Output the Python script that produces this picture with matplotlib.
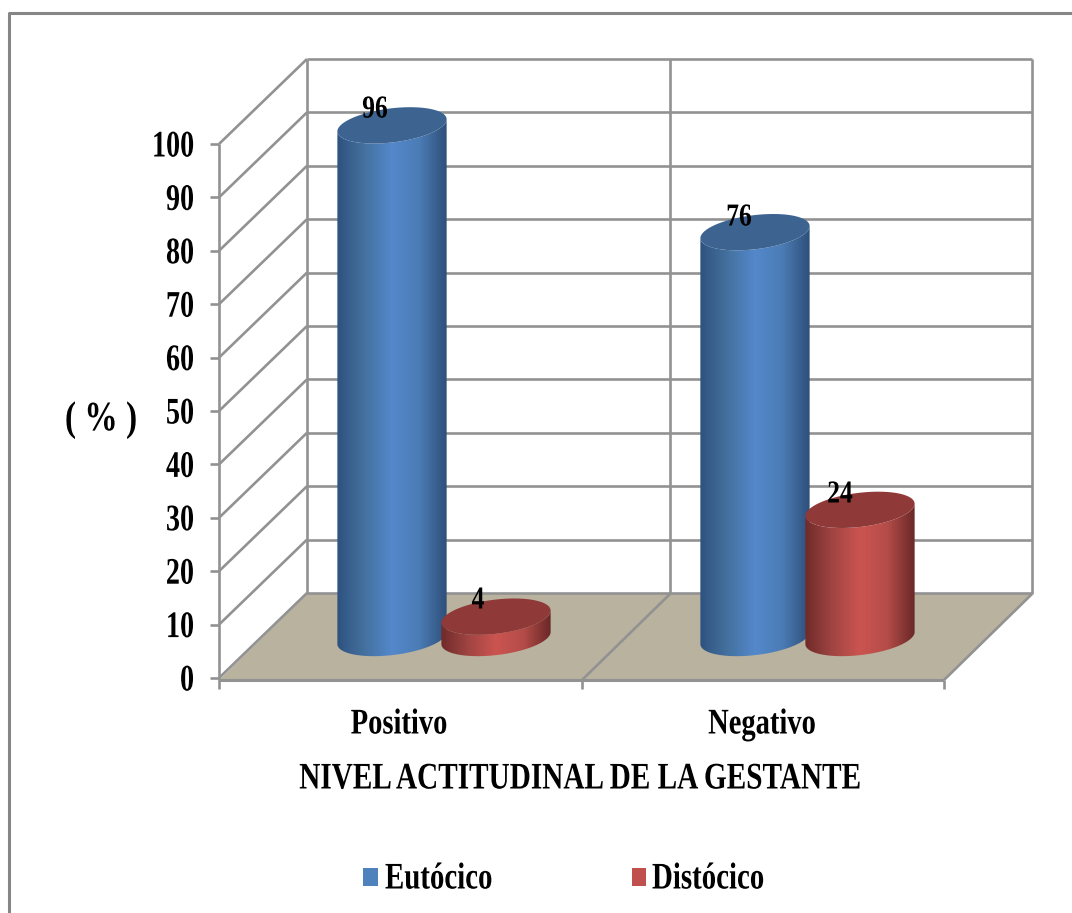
import numpy as np
import matplotlib
matplotlib.use('Agg')
import matplotlib.pyplot as plt
from matplotlib.colors import LinearSegmentedColormap
from matplotlib.patches import Polygon, Rectangle
from matplotlib.patheffects import AbstractPathEffect
from matplotlib.transforms import Affine2D

# Daten
categorias = ['Positivo', 'Negativo']
eutocico = [96, 76]
distocico = [4, 24]
ticks_y = [0, 10, 20, 30, 40, 50, 60, 70, 80, 90, 100]

GRIS = '#929292'
K = 5.34   # Pixel pro Prozentpunkt


class Squeeze(AbstractPathEffect):
    # schmale Schrift: Glyphen horizontal um x0 stauchen
    def __init__(self, x0, sx):
        super().__init__()
        self.x0 = x0
        self.sx = sx

    def draw_path(self, renderer, gc, tpath, affine, rgbFace=None):
        t = affine + Affine2D().translate(-self.x0, 0).scale(self.sx, 1).translate(self.x0, 0)
        renderer.draw_path(gc, tpath, t, rgbFace)


fig = plt.figure(figsize=(10.72, 9.13), dpi=100)
ax = fig.add_axes([0, 0, 1, 1])
ax.set_xlim(0, 1072)
ax.set_ylim(913, 0)
ax.axis('off')


def texto(x, y, s, size, sx=0.75, ha='center', color='black'):
    t = ax.text(x, y, s, fontsize=size, family='Liberation Serif', fontweight='bold',
                ha=ha, va='center', color=color, zorder=20)
    t.set_path_effects([Squeeze(x, sx)])
    return t


def linea(xs, ys, lw=1.9, z=2):
    ax.plot(xs, ys, color=GRIS, lw=lw, solid_capstyle='butt', zorder=z)


# Rahmen (nur links und oben)
ax.plot([9, 9, 1072], [913, 13, 13], color='#868686', lw=2.2, zorder=1)

# Boden
ax.add_patch(Polygon([(220, 679), (307, 594), (1032, 594), (944, 679)], closed=True,
                     facecolor='#b8b29e', edgecolor='none', zorder=1))

# Waende und Gitterlinien
for v in ticks_y:
    y_front = 678 - v * K
    y_back = 593 - v * K
    linea([307, 1032], [y_back, y_back])
    linea([219, 307], [y_front, y_back])
    linea([210, 219], [y_front, y_front])
    texto(194, y_front + 3, str(v), 27, ha='right')
linea([219, 219], [678 - 100 * K, 689])
linea([307, 307], [59, 594])
linea([670, 670], [59, 594])
linea([1032, 1032], [59, 594])
linea([219, 944], [680, 680], lw=2.2)
linea([582, 582], [680, 689])
linea([944, 944], [680, 689])
linea([582, 670], [680, 594])
linea([944, 1032], [680, 594])

# Zylinder
cm_azul = LinearSegmentedColormap.from_list('azul', ['#2f527f', '#44719f', '#5388cb', '#4b7cb5', '#2e4f7a'])
cm_rojo = LinearSegmentedColormap.from_list('rojo', ['#6f2a29', '#a04543', '#cc5450', '#b44c49', '#692827'])


def elipse(cx, cy, a=55.0, b=17.0, ang=7.0, t=None):
    th = np.radians(ang)
    if t is None:
        t = np.linspace(0, 2 * np.pi, 180)
    x = cx + a * np.cos(t) * np.cos(th) + b * np.sin(t) * np.sin(th)
    y = cy - a * np.cos(t) * np.sin(th) + b * np.sin(t) * np.cos(th)
    return np.column_stack([x, y])


def zylinder(cx, valor, cmap, color_top, base=638, z=5):
    y_top = base - valor * K
    # Tangentenpunkte der gekippten Ellipse als Grenzen des Mantels
    t0 = np.arctan(17.0 / 55.0 * np.tan(np.radians(7.0)))
    t = np.linspace(t0, np.pi + t0, 120)
    unten = elipse(cx, base, t=t)
    oben = elipse(cx, y_top, t=t)[::-1]
    cuerpo = Polygon(np.vstack([unten, oben]), closed=True, facecolor='none', edgecolor='none', zorder=z)
    ax.add_patch(cuerpo)
    grad = np.linspace(0, 1, 256).reshape(1, -1)
    im = ax.imshow(grad, cmap=cmap, extent=[cx - 55, cx + 55, 913, 0], aspect='auto', zorder=z)
    im.set_clip_path(cuerpo)
    ax.add_patch(Polygon(elipse(cx, y_top), closed=True, facecolor=color_top, edgecolor='none', zorder=z + 0.1))


zylinder(392, eutocico[0], cm_azul, '#3d6491', z=5)
zylinder(496, distocico[0], cm_rojo, '#8f3a39', z=6)
zylinder(755, eutocico[1], cm_azul, '#3d6491', z=5)
zylinder(860, distocico[1], cm_rojo, '#8f3a39', z=6)
ax.set_xlim(0, 1072)
ax.set_ylim(913, 0)

# Datenbeschriftung
texto(375, 110, str(eutocico[0]), 23, sx=0.8)
texto(478, 601, str(distocico[0]), 23, sx=0.8)
texto(739, 218, str(eutocico[1]), 23, sx=0.8)
texto(840, 495, str(distocico[1]), 23, sx=0.8)

# Achsentexte
texto(399, 725, categorias[0], 26, sx=0.79)
texto(762, 725, categorias[1], 26, sx=0.79)
texto(580, 779, 'NIVEL ACTITUDINAL DE LA GESTANTE', 27, sx=0.78)
texto(101, 420, '( % )', 30, sx=0.8)

# Legende
ax.add_patch(Rectangle((363, 868), 15, 18, facecolor='#4f81bd', edgecolor='none', zorder=5))
ax.add_patch(Rectangle((632, 868), 14, 18, facecolor='#c0504d', edgecolor='none', zorder=5))
texto(385, 879, 'Eutócico', 27, sx=0.77, ha='left')
texto(652, 879, 'Distócico', 27, sx=0.77, ha='left')

fig.savefig('out.png', dpi=100)
